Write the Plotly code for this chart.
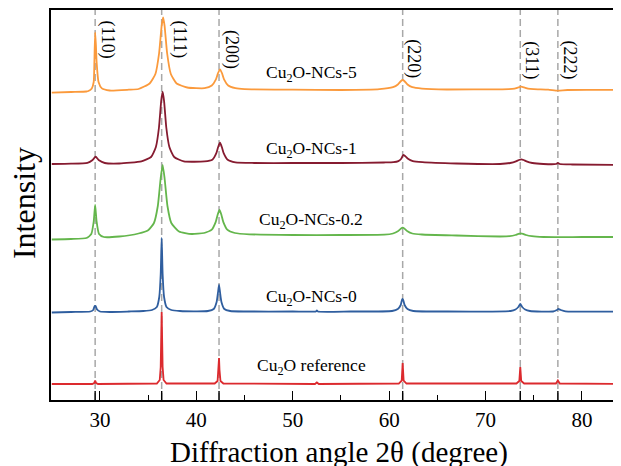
import plotly.graph_objects as go

# ---------------- data (intensity in arbitrary units, stacked with offsets) -------------
ref_x = [25.0, 29.2, 29.4, 29.5, 29.6, 29.8, 35.9, 36.2, 36.3, 36.4, 36.5, 36.6, 36.9,
         41.9, 42.2, 42.3, 42.35, 42.4, 42.5, 42.8, 52.3, 52.5, 52.7,
         61.0, 61.3, 61.4, 61.5, 61.8, 73.2, 73.5, 73.6, 73.7, 74.0, 77.3, 77.5, 77.7, 85.0]
ref_y = [16, 16, 17, 19.5, 17, 16, 16.5, 20, 33, 88, 33, 20, 16.5,
         16.5, 19, 30, 42, 30, 19, 16.5, 16, 17.5, 16,
         16.5, 19.5, 37, 19.5, 16.5, 16.5, 19, 33, 19, 16.5, 16.5, 19.5, 16.5, 16]

nc0_x = [25, 27, 29.0, 29.3, 29.45, 29.55, 29.7, 30.0, 31, 33, 34.5, 35.4, 35.9, 36.15, 36.3,
         36.4, 36.5, 36.65, 36.9, 37.4, 38.3, 40, 41.2, 41.8, 42.1, 42.25, 42.35, 42.45, 42.6,
         42.9, 43.5, 45, 50, 52.4, 52.5, 52.6, 56, 60.3, 60.9, 61.2, 61.35, 61.45, 61.6, 61.9,
         62.5, 66, 72.6, 73.1, 73.4, 73.6, 73.8, 74.1, 74.6, 77.0, 77.4, 77.55, 77.8, 78.3, 85.0]
nc0_y = [87.5, 88, 88.5, 90, 94, 94, 90.5, 88.5, 88, 88.5, 89, 90, 93, 103, 126,
         162, 126, 103, 93, 90, 89, 88.7, 89, 91, 98, 108, 115, 108, 98,
         91, 89, 88.5, 88.5, 88.5, 89.5, 88.5, 88.5, 89, 91, 95, 101, 100, 95, 91,
         89, 88.5, 89, 90.5, 93, 96, 93, 90.5, 89, 88.5, 90, 91, 90, 88.7, 88.5]

nc02_x = [25, 27, 28.6, 29.1, 29.35, 29.5, 29.65, 29.9, 30.4, 32, 34, 35.0, 35.6, 36.0, 36.3,
          36.5, 36.7, 37.0, 37.4, 38.2, 39.5, 40.8, 41.6, 42.0, 42.2, 42.4, 42.6, 42.8, 43.2,
          44.0, 45.5, 50, 55, 59.5, 60.4, 60.9, 61.2, 61.4, 61.6, 61.9, 62.4, 63.4, 67, 71.5,
          72.5, 73.1, 73.4, 73.65, 73.9, 74.2, 74.8, 76, 80, 85.0]
nc02_y = [160.5, 161, 162, 166, 178.5, 195, 178.5, 166, 163, 163.5, 166.5, 169.8, 177, 194, 222,
          235, 222, 194, 177, 168.5, 166, 167, 170.4, 177.8, 185, 190, 185, 177.8, 170.4,
          167, 165.7, 165, 165, 165.3, 166.5, 168.7, 171.3, 172.3, 171.3, 168.7, 166.5, 165.5, 164.5, 163.5,
          163.8, 165, 166.1, 166.7, 166.1, 165, 163.8, 163, 163, 163]

nc1_x = [25, 27, 28.7, 29.2, 29.55, 29.9, 30.5, 32, 34.3, 35.3, 35.8, 36.12, 36.35, 36.5, 36.65,
         36.88, 37.2, 37.7, 38.7, 40.85, 41.65, 42.07, 42.25, 42.45, 42.65, 42.83, 43.25, 44.05,
         46, 50, 55, 59.45, 60.45, 60.95, 61.25, 61.45, 61.65, 61.95, 62.45, 63.45, 67, 71.5,
         72.55, 73.15, 73.45, 73.7, 73.95, 74.25, 74.85, 76, 77.3, 77.5, 77.7, 79, 85.0]
nc1_y = [236, 236.3, 237.2, 239.7, 243.3, 239.7, 237, 236.5, 238.6, 243, 253, 272.5, 298.8, 308.3, 298.8,
         272.5, 253, 243, 238.6, 238.6, 240.3, 246.9, 252.7, 257.3, 252.7, 246.9, 240.3, 237.6,
         237, 237, 237, 237.5, 237.8, 238.9, 241.2, 245, 243.9, 241.2, 238.9, 237.8, 236.5, 236,
         237, 238.6, 240, 240.7, 240, 238.6, 237, 236, 236, 237, 236, 235.5, 235]

nc5_x = [25, 27, 28.6, 28.8, 29.15, 29.35, 29.42, 29.5, 29.58, 29.65, 29.85, 30.2, 31, 33, 34,
         35.15, 35.75, 36.13, 36.4, 36.55, 36.7, 36.97, 37.35, 37.95, 39.05, 40.85, 41.6, 42.03,
         42.25, 42.45, 42.65, 42.87, 43.3, 44.05, 45, 50, 55, 59, 60.4, 60.9, 61.2, 61.4, 61.6,
         61.9, 62.4, 63.4, 66, 71.5, 72.4, 73.0, 73.4, 73.7, 74.0, 74.4, 75.0, 76.5, 77.5, 78.5, 85.0]
nc5_y = [307.3, 308, 308.5, 309, 311.6, 318, 338.3, 367.7, 354.8, 338.3, 318, 311.6, 309.5, 310.3, 311,
         316.5, 326, 346.5, 374.4, 382.7, 374.4, 346.5, 326, 316.5, 312.5, 311.8, 314.5, 320.6,
         327, 330.7, 327, 320.6, 314.5, 311.8, 310.8, 310.3, 310, 310.8, 312.8, 315.5, 318.8, 320, 318.8,
         315.5, 312.8, 311.4, 310.5, 310.7, 310.8, 311.4, 312.6, 313.3, 312.6, 311.4, 310.8, 310.3, 309.3, 310, 310]

series_names = ["Cu<sub>2</sub>O reference", "Cu<sub>2</sub>O-NCs-0", "Cu<sub>2</sub>O-NCs-0.2",
                "Cu<sub>2</sub>O-NCs-1", "Cu<sub>2</sub>O-NCs-5"]
series_x = [ref_x, nc0_x, nc02_x, nc1_x, nc5_x]
series_y = [ref_y, nc0_y, nc02_y, nc1_y, nc5_y]
series_colors = ["#DC2A2E", "#2F5E9F", "#64B64C", "#861B30", "#FB9A3C"]
series_shape = ["linear", "spline", "spline", "spline", "spline"]
label_y = [34, 103, 180, 251, 326.7]
label_x = 51.9

peak_pos = [29.5, 36.4, 42.35, 61.4, 73.6, 77.5]
peak_labels = ["(110)", "(111)", "(200)", "(220)", "(311)", "(222)"]
peak_label_x = [30.83, 38.3, 43.7, 62.54, 74.79, 78.8]
peak_label_y = [360.5, 360.5, 351, 341, 340, 340]

x_ticks = [30, 40, 50, 60, 70, 80]

# ---------------- figure ----------------
# the page body has an 8px default margin, so the figure is sized to fit
# inside the window without overflow (613x458 placed at 8,8)
FONT = "Liberation Serif"
PLOT_W = 570.0
PLOT_H = 390.0
fig = go.Figure()

for nm, xs, ys, col, shp in zip(series_names, series_x, series_y, series_colors, series_shape):
    line = dict(color=col, width=1.8, shape=shp)
    if shp == "spline":
        line["smoothing"] = 0.5
    fig.add_trace(go.Scatter(x=xs, y=ys, mode="lines", name=nm, line=line,
                             showlegend=False, hoverinfo="skip"))

shapes = []
for p in peak_pos:
    shapes.append(dict(type="line", xref="x", yref="paper", x0=p, x1=p, y0=0, y1=1,
                       line=dict(color="#A8A8A8", width=1.5, dash="7px,4px"), layer="below"))
    shapes.append(dict(type="line", xref="x", yref="paper", x0=p, x1=p, y0=0, y1=9 / PLOT_H,
                       line=dict(color="black", width=1.4), layer="above"))

annotations = []
for nm, ly in zip(series_names, label_y):
    annotations.append(dict(x=label_x, y=ly, xref="x", yref="y", text=nm, showarrow=False,
                            xanchor="center", yanchor="middle",
                            font=dict(family=FONT, size=17.5, color="black")))
for t, lx, ly in zip(peak_labels, peak_label_x, peak_label_y):
    annotations.append(dict(x=lx, y=ly, xref="x", yref="y", text=t, showarrow=False,
                            textangle=90, xanchor="center", yanchor="middle",
                            font=dict(family=FONT, size=18, color="black")))
annotations.append(dict(x=-27 / PLOT_W, y=0.505, xref="paper", yref="paper", text="Intensity",
                        showarrow=False, textangle=-90, xanchor="center", yanchor="middle",
                        font=dict(family=FONT, size=32, color="black")))
annotations.append(dict(x=(339 - 51) / PLOT_W, y=-34 / PLOT_H, xref="paper", yref="paper",
                        text="Diffraction angle 2θ (degree)", showarrow=False,
                        xanchor="center", yanchor="top",
                        font=dict(family=FONT, size=29, color="black")))

fig.update_layout(
    width=613, height=458,
    margin=dict(l=43, r=0, t=2, b=66),
    paper_bgcolor="white", plot_bgcolor="white",
    font=dict(family=FONT, size=20, color="black"),
    shapes=shapes, annotations=annotations,
    xaxis=dict(range=[24.92, 24.92 + PLOT_W / 9.64], tickvals=x_ticks,
               ticktext=[str(v) for v in x_ticks],
               ticks="inside", ticklen=9, tickwidth=1.4, tickcolor="black",
               minor=dict(dtick=5, tick0=25, ticks="inside", ticklen=5, tickwidth=1.4,
                          tickcolor="black", showgrid=False),
               showline=True, linecolor="black", linewidth=1.5, mirror=True,
               showgrid=False, zeroline=False,
               tickfont=dict(family=FONT, size=21, color="black")),
    yaxis=dict(range=[0, PLOT_H], showticklabels=False, ticks="", showline=True,
               linecolor="black", linewidth=1.5, showgrid=False, zeroline=False),
)

fig.write_html("out.html")
